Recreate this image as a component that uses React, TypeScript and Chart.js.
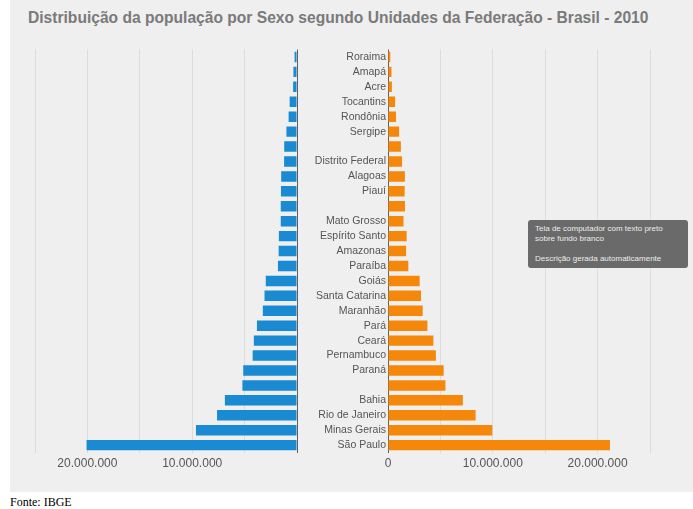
import React, { useEffect, useRef } from "react";
import { Chart, registerables } from "chart.js";

Chart.register(...registerables);

const categories = [
  "Roraima", "Amapá", "Acre", "Tocantins", "Rondônia", "Sergipe",
  "Mato Grosso do Sul", "Distrito Federal", "Alagoas", "Piauí",
  "Rio Grande do Norte", "Mato Grosso", "Espírito Santo", "Amazonas",
  "Paraíba", "Goiás", "Santa Catarina", "Maranhão", "Pará", "Ceará",
  "Pernambuco", "Paraná", "Rio Grande do Sul", "Bahia", "Rio de Janeiro",
  "Minas Gerais", "São Paulo",
];

// labels that are not printed in the reference
const hiddenLabels = ["Mato Grosso do Sul", "Rio Grande do Norte", "Rio Grande do Sul"];

const homens = [
  230000, 340000, 370000, 700000, 800000, 1010000, 1220000, 1230000, 1510000, 1530000,
  1550000, 1550000, 1730000, 1750000, 1820000, 2980000, 3100000, 3260000, 3820000, 4120000,
  4230000, 5130000, 5210000, 6880000, 7630000, 9640000, 20080000,
];

const mulheres = [
  220000, 330000, 370000, 680000, 760000, 1060000, 1230000, 1340000, 1610000, 1590000,
  1620000, 1480000, 1780000, 1730000, 1940000, 3020000, 3150000, 3310000, 3760000, 4330000,
  4570000, 5310000, 5480000, 7140000, 8360000, 9950000, 21180000,
];

const axisMax = 25000000;
const axisStep = 5000000;
const labelStep = 10000000;

const title = "Distribuição da população por Sexo segundo Unidades da Federação - Brasil - 2010";
const fonte = "Fonte: IBGE";

const FONT = "'Liberation Sans', Arial, sans-serif";

function fmt(v: number): string {
  return String(Math.round(v)).replace(/\B(?=(\d{3})+(?!\d))/g, ".");
}

const PAD_TOP = 11.5;
const PAD_BOTTOM = 3;

export default function App() {
  const leftRef = useRef<HTMLCanvasElement | null>(null);
  const rightRef = useRef<HTMLCanvasElement | null>(null);

  useEffect(() => {
    document.body.style.margin = "0";
    const gridColor = (ctx: any) => (ctx.tick && ctx.tick.value === 0 ? "#606060" : "#dcdcdc");

    const left = new Chart(leftRef.current as HTMLCanvasElement, {
      type: "bar",
      data: {
        labels: categories,
        datasets: [
          {
            label: "Homens",
            data: homens,
            backgroundColor: "#1a8ad2",
            barPercentage: 1,
            categoryPercentage: 0.7,
          },
        ],
      },
      options: {
        indexAxis: "y",
        responsive: false,
        animation: false,
        layout: { padding: { left: 25, right: 1, top: PAD_TOP, bottom: PAD_BOTTOM } },
        plugins: { legend: { display: false }, tooltip: { enabled: false } },
        scales: {
          x: {
            reverse: true,
            min: 0,
            max: axisMax,
            border: { display: false },
            grid: { color: gridColor, drawTicks: false },
            ticks: {
              stepSize: axisStep,
              autoSkip: false,
              padding: 4,
              color: "#555",
              font: { family: FONT, size: 12 },
              maxRotation: 0,
              callback: (v: any) => (v !== 0 && v % labelStep === 0 && v < axisMax ? fmt(v) : ""),
            },
          },
          y: { display: false },
        },
      },
    });

    const right = new Chart(rightRef.current as HTMLCanvasElement, {
      type: "bar",
      data: {
        labels: categories,
        datasets: [
          {
            label: "Mulheres",
            data: mulheres,
            backgroundColor: "#f5870b",
            barPercentage: 1,
            categoryPercentage: 0.7,
          },
        ],
      },
      options: {
        indexAxis: "y",
        responsive: false,
        animation: false,
        layout: { padding: { left: 0, right: 43, top: PAD_TOP, bottom: PAD_BOTTOM } },
        plugins: { legend: { display: false }, tooltip: { enabled: false } },
        scales: {
          x: {
            min: 0,
            max: axisMax,
            border: { display: false },
            grid: { color: gridColor, drawTicks: false },
            ticks: {
              stepSize: axisStep,
              autoSkip: false,
              padding: 4,
              color: "#555",
              font: { family: FONT, size: 12 },
              maxRotation: 0,
              callback: (v: any) => (v % labelStep === 0 && v < axisMax ? fmt(v) : ""),
            },
          },
          y: {
            border: { display: false },
            grid: { display: false, drawTicks: false },
            afterFit: (scale: any) => {
              scale.width = 90;
            },
            ticks: {
              autoSkip: false,
              padding: 2,
              color: "#555",
              font: { family: FONT, size: 10.5 },
              callback: function (this: any, v: any) {
                const name = categories[v as number];
                return hiddenLabels.includes(name) ? "" : name;
              },
            },
          },
        },
      },
    });

    return () => {
      left.destroy();
      right.destroy();
    };
  }, []);

  return (
    <div style={{ position: "relative", width: 693, height: 509, background: "#fff", overflow: "hidden" }}>
      <div style={{ position: "absolute", left: 10, top: 0, width: 683, height: 492, background: "#efefef" }} />
      <div
        style={{
          position: "absolute",
          left: 28,
          top: 9,
          fontFamily: FONT,
          fontWeight: "bold",
          fontSize: 15.6,
          lineHeight: "17px",
          color: "#7a7a7a",
          whiteSpace: "nowrap",
        }}
      >
        {title}
      </div>
      <canvas
        ref={leftRef}
        width={291}
        height={440}
        style={{ position: "absolute", left: 10, top: 38, width: 291, height: 440 }}
      />
      <canvas
        ref={rightRef}
        width={395}
        height={440}
        style={{ position: "absolute", left: 298, top: 38, width: 395, height: 440 }}
      />
      <div
        style={{
          position: "absolute",
          left: 528,
          top: 220,
          width: 160,
          height: 48,
          background: "#6a6a6a",
          borderRadius: 3,
          color: "#ececec",
          fontFamily: FONT,
          fontSize: 8,
          lineHeight: "10px",
          padding: "4px 0 0 7px",
          boxSizing: "border-box",
        }}
      >
        <div>Tela de computador com texto preto</div>
        <div>sobre fundo branco</div>
        <div>&nbsp;</div>
        <div>Descrição gerada automaticamente</div>
      </div>
      <div
        style={{
          position: "absolute",
          left: 10,
          top: 495,
          fontFamily: "'Liberation Serif', 'Times New Roman', serif",
          fontSize: 12,
          lineHeight: "14px",
          color: "#000",
        }}
      >
        {fonte}
      </div>
    </div>
  );
}
